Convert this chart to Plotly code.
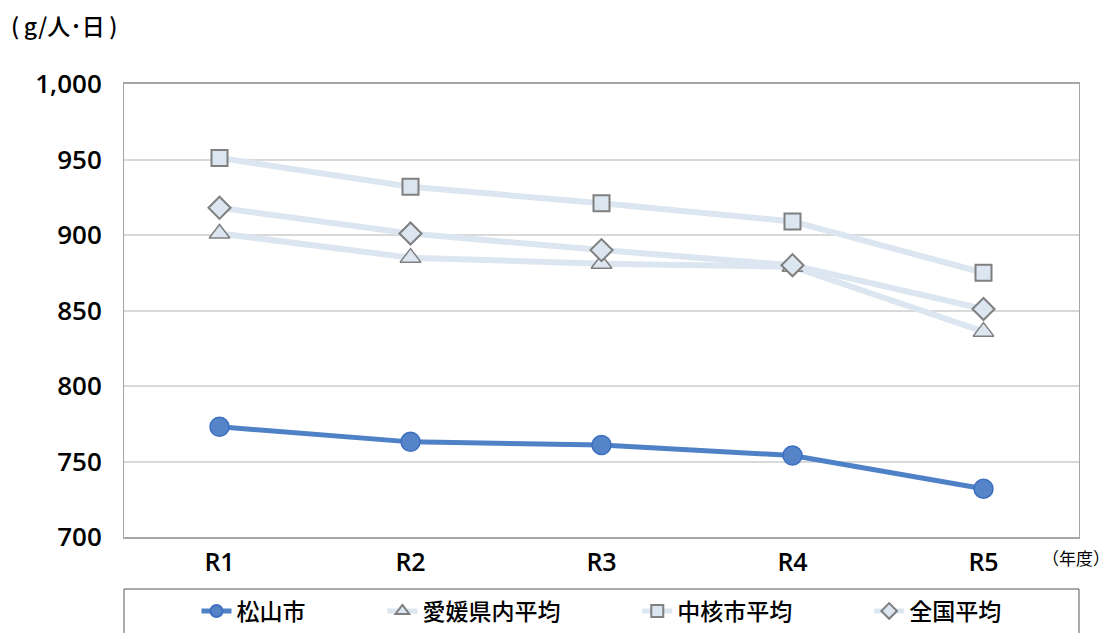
import plotly.graph_objects as go

categories = ["R1", "R2", "R3", "R4", "R5"]
matsuyama = [773, 763, 761, 754, 732]
ehime_avg = [901, 885, 881, 879, 836]
chukaku_avg = [951, 932, 921, 909, 875]
national_avg = [918, 901, 890, 880, 851]

FONT = "Noto Sans CJK JP"
NUMFONT = "Open Sans"
light = "#DCE6F1"
grey = "#7F7F7F"
GAP = "\u3000\u3000\u00a0\u00a0\u00a0\u00a0\u00a0"

# page body has an 8px margin in the browser; size the figure to compensate
W, H = 1101, 625
L, T = 116, 76
PW, PH = 955, 453

fig = go.Figure()
fig.add_trace(go.Scatter(x=categories, y=ehime_avg, name="愛媛県内平均" + GAP, mode="lines+markers",
                         line=dict(color=light, width=6), legendrank=2,
                         marker=dict(symbol="triangle-up", size=18, color=light, line=dict(color=grey, width=1.5))))
fig.add_trace(go.Scatter(x=categories, y=chukaku_avg, name="中核市平均" + GAP, mode="lines+markers",
                         line=dict(color=light, width=6), legendrank=3,
                         marker=dict(symbol="square", size=16, color=light, line=dict(color=grey, width=2))))
fig.add_trace(go.Scatter(x=categories, y=national_avg, name="全国平均", mode="lines+markers",
                         line=dict(color=light, width=6), legendrank=4,
                         marker=dict(symbol="diamond", size=17, color=light, line=dict(color=grey, width=2))))
fig.add_trace(go.Scatter(x=categories, y=matsuyama, name="松山市" + GAP, mode="lines+markers",
                         line=dict(color="#4F81C6", width=5), legendrank=1,
                         marker=dict(symbol="circle", size=19, color="#5585C8", line=dict(color="#3F6FC0", width=1.5))))

fig.update_layout(
    width=W, height=H,
    margin=dict(l=L, r=W - L - PW, t=T, b=H - T - PH, autoexpand=False),
    paper_bgcolor="white", plot_bgcolor="white",
    font=dict(family=FONT, size=22, color="#000000"),
    showlegend=True,
    legend=dict(orientation="h", x=0.5, xanchor="center", y=-74 / PH, yanchor="middle",
                font=dict(size=23, family=FONT, weight=500), itemsizing="constant",
                bgcolor="rgba(0,0,0,0)"),
    xaxis=dict(type="category", range=[-0.5, 4.5], showgrid=False, showline=True,
               linecolor="#A6A6A6", linewidth=1.5, mirror=True, ticks="",
               tickfont=dict(size=25, family=NUMFONT, weight=600), ticklabelstandoff=2),
    yaxis=dict(range=[700, 1000], dtick=50, tickformat=",d", showgrid=True, gridcolor="#D9D9D9",
               gridwidth=1.5, showline=True, linecolor="#A6A6A6", linewidth=1, mirror=True,
               ticks="", zeroline=False, tickfont=dict(size=26, family=NUMFONT, weight=600),
               ticklabelstandoff=16),
)

fig.add_shape(type="rect", xref="paper", yref="paper", x0=0, x1=1, y0=-52 / PH, y1=-0.4,
              line=dict(color="#595959", width=1), fillcolor="rgba(0,0,0,0)", layer="below")

fig.add_annotation(text="(\u2009g/人･日\u2009)", xref="paper", yref="paper", x=(1 - L) / PW, y=(PH + 59) / PH,
                   xanchor="left", yanchor="middle", showarrow=False,
                   font=dict(size=23, family=FONT, weight=500))
fig.add_annotation(text="（年度）", xref="paper", yref="paper", x=(W + 3 - L) / PW, y=-20 / PH,
                   xanchor="right", yanchor="middle", showarrow=False,
                   font=dict(size=17, family=FONT))

fig.write_html("out.html")
